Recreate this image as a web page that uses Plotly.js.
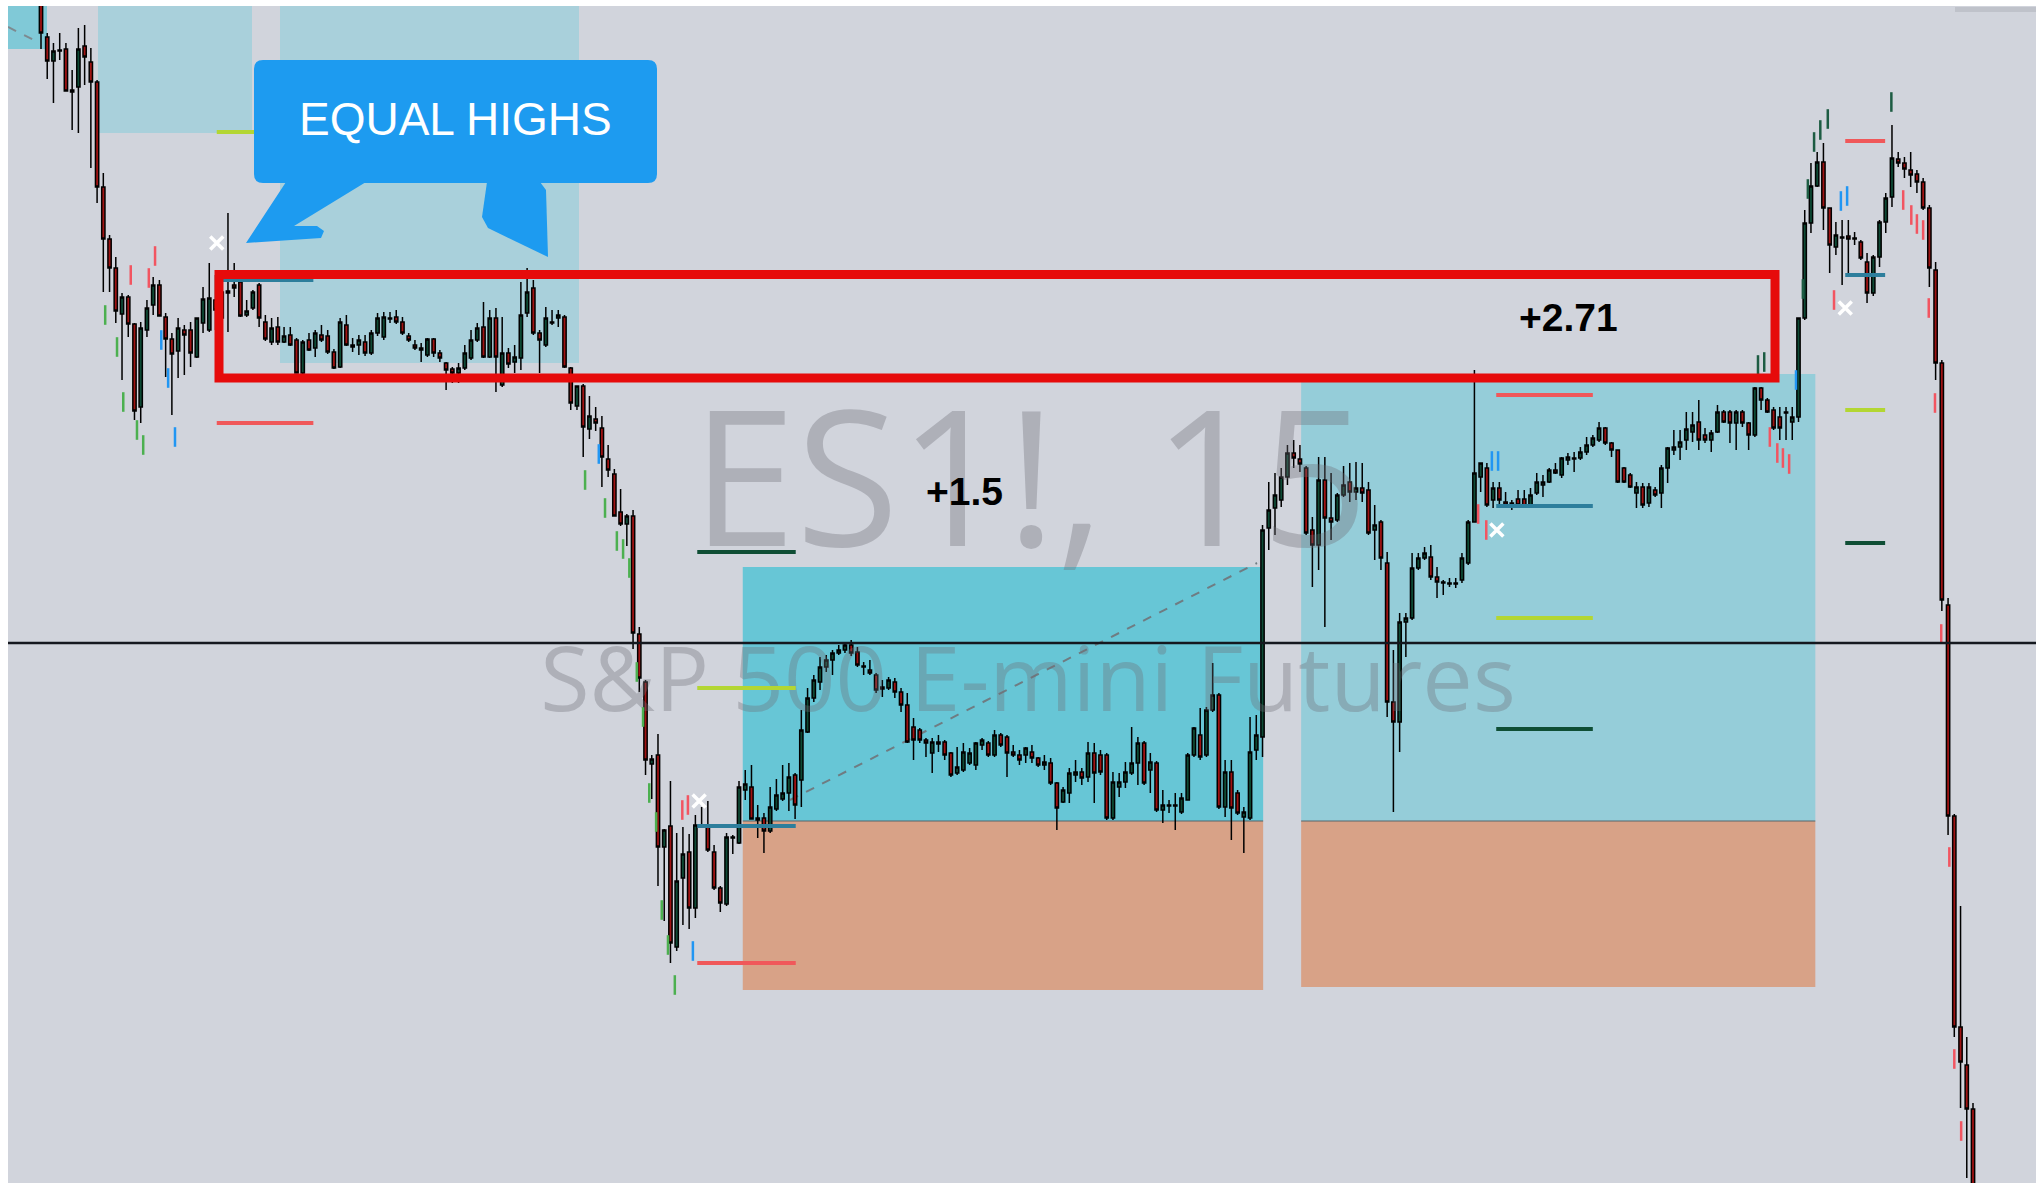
<!DOCTYPE html>
<html>
<head>
<meta charset="utf-8">
<script src="https://cdn.plot.ly/plotly-3.0.1.min.js"></script>
<style>
html,body{margin:0;padding:0;background:#fff;overflow:hidden;}
#chart{width:2036px;height:1183px;}
</style>
</head>
<body>
<div id="chart"></div>
<script>
// ---- ES1! 15-minute candles (prices) ----
const open = [
4999.8,4996.3,4993.9,4995.0,4995.1,4991.0,4991.3,4995.4,4993.8,4991.8,
4981.3,4976.1,4973.2,4968.6,4970.3,4967.6,4959.3,4967.0,4969.5,4971.5,
4968.3,4966.1,4964.9,4967.0,4967.0,4964.3,4967.7,4967.0,4970.0,4968.2,
4970.7,4971.5,4971.8,4968.5,4969.2,4971.5,4967.8,4965.8,4967.3,4965.8,
4966.5,4966.0,4962.7,4966.0,4965.2,4966.5,4966.4,4964.8,4963.3,4967.5,
4965.5,4965.5,4965.8,4964.7,4966.7,4966.3,4968.2,4968.3,4967.8,4966.4,
4965.5,4965.2,4964.5,4966.1,4964.7,4963.7,4963.1,4962.7,4963.2,4964.2,
4966.0,4967.3,4964.3,4968.2,4961.5,4964.7,4963.8,4964.2,4968.7,4971.2,
4966.7,4965.5,4967.8,4968.2,4968.3,4963.2,4959.4,4961.4,4957.1,4958.1,
4957.2,4954.1,4952.6,4948.8,4947.6,4948.4,4936.6,4931.8,4923.6,4924.5,
4915.3,4917.4,4905.3,4912.2,4914.8,4909.2,4917.5,4917.3,4914.8,4911.2,
4909.6,4916.3,4915.7,4921.0,4921.3,4918.0,4918.2,4916.9,4919.1,4920.1,
4920.7,4922.5,4922.0,4926.8,4930.2,4931.8,4933.3,4934.0,4934.7,4935.0,
4935.5,4934.8,4933.4,4933.0,4932.5,4931.1,4931.2,4931.8,4930.8,4929.5,
4927.3,4927.0,4926.0,4924.7,4925.8,4925.8,4924.7,4922.7,4923.0,4923.7,
4923.5,4925.5,4925.7,4924.5,4926.5,4926.3,4924.8,4924.5,4924.5,4924.8,
4924.2,4923.5,4923.7,4921.7,4919.8,4920.7,4922.5,4922.8,4922.3,4924.7,
4924.5,4924.5,4918.2,4921.3,4921.8,4922.7,4923.7,4925.7,4923.0,4923.7,
4919.0,4919.5,4919.4,4918.8,4920.0,4924.5,4926.5,4924.5,4929.0,4930.5,
4919.3,4922.8,4920.7,4918.3,4918.2,4925.0,4926.3,4947.2,4949.2,4950.0,
4952.3,4954.7,4954.1,4953.2,4947.0,4945.5,4952.0,4948.2,4948.0,4950.5,
4951.8,4950.8,4951.2,4951.0,4947.0,4947.8,4943.7,4929.8,4927.8,4937.8,
4938.2,4943.2,4944.2,4944.3,4942.3,4941.8,4941.7,4941.7,4942.0,4943.7,
4947.8,4952.3,4953.2,4950.0,4951.2,4949.8,4949.7,4950.1,4950.1,4949.5,
4950.7,4951.5,4951.8,4953.0,4952.5,4954.0,4954.2,4954.2,4954.8,4955.5,
4956.0,4957.2,4955.7,4955.0,4953.2,4952.5,4950.7,4951.3,4949.7,4951.0,
4950.7,4953.2,4955.0,4955.3,4956.0,4956.8,4957.8,4956.5,4956.0,4956.8,
4958.8,4958.8,4957.7,4958.8,4957.7,4956.5,4961.2,4960.0,4959.0,4958.3,
4958.8,4957.8,4958.3,4968.2,4977.7,4981.4,4983.8,4979.2,4975.3,4976.3,
4976.4,4976.2,4975.8,4973.8,4970.7,4974.3,4977.8,4980.3,4984.1,4983.7,
4983.0,4982.6,4981.8,4979.2,4973.0,4963.7,4939.5,4918.4,4897.3,4893.5,
4889.1];
const high = [
5000.8,4996.7,4995.7,4996.7,4995.7,4993.0,4997.2,4997.5,4995.2,4992.0,
4982.7,4976.5,4974.3,4970.7,4970.5,4967.7,4967.8,4970.0,4972.3,4972.0,
4968.7,4966.7,4968.2,4967.5,4967.8,4968.2,4971.3,4973.7,4972.5,4972.2,
4978.7,4973.7,4972.0,4970.0,4971.0,4971.7,4968.5,4968.2,4968.3,4967.3,
4967.3,4966.2,4966.0,4966.7,4967.0,4967.5,4967.0,4965.1,4968.2,4968.5,
4966.2,4966.5,4966.5,4967.0,4968.7,4968.8,4968.8,4969.0,4968.3,4966.7,
4966.0,4965.7,4966.2,4966.2,4965.0,4963.8,4963.3,4963.7,4965.5,4967.0,
4967.7,4969.8,4969.0,4969.2,4968.3,4965.2,4965.5,4971.8,4973.2,4972.0,
4967.0,4969.3,4969.0,4969.0,4968.5,4963.3,4961.4,4961.6,4960.4,4959.3,
4958.4,4955.5,4953.1,4951.1,4948.6,4949.0,4937.3,4932.0,4924.5,4926.6,
4917.1,4921.9,4916.7,4917.3,4916.6,4918.5,4919.3,4919.9,4915.5,4911.4,
4916.7,4916.5,4921.9,4923.0,4923.5,4919.5,4918.7,4921.3,4922.1,4923.5,
4923.7,4922.7,4929.0,4931.2,4932.5,4934.3,4934.5,4935.0,4935.5,4935.8,
4936.0,4935.3,4933.8,4934.0,4932.7,4932.0,4932.3,4932.2,4931.2,4930.7,
4928.2,4927.2,4926.2,4926.2,4926.5,4926.0,4924.8,4925.3,4925.7,4925.2,
4925.8,4926.2,4925.9,4927.0,4926.7,4926.5,4925.5,4925.0,4925.3,4925.5,
4924.3,4924.5,4924.2,4921.8,4921.3,4923.2,4924.0,4923.2,4925.8,4925.7,
4925.0,4924.7,4922.8,4922.7,4923.8,4927.3,4926.3,4925.9,4924.7,4923.9,
4921.0,4920.0,4920.7,4920.7,4924.7,4927.3,4929.2,4929.3,4933.7,4930.7,
4924.0,4924.0,4921.0,4919.3,4928.3,4928.5,4947.5,4951.8,4952.7,4953.2,
4955.5,4956.0,4955.5,4953.4,4948.3,4954.3,4954.3,4952.7,4950.7,4953.4,
4953.7,4953.8,4953.7,4951.8,4949.5,4948.0,4944.8,4935.0,4938.7,4938.7,
4944.7,4944.7,4945.3,4945.5,4943.3,4942.0,4942.2,4942.2,4944.7,4948.0,
4963.0,4953.7,4953.7,4951.8,4951.8,4950.8,4950.0,4951.0,4951.0,4951.2,
4952.7,4952.5,4953.2,4953.7,4954.3,4954.7,4954.8,4955.3,4956.3,4956.5,
4957.8,4957.3,4955.8,4955.0,4953.3,4952.7,4951.8,4951.7,4951.7,4951.3,
4953.5,4955.3,4957.0,4957.0,4958.8,4958.8,4960.0,4957.2,4957.0,4959.5,
4959.0,4959.0,4959.0,4959.0,4957.8,4961.3,4961.3,4960.2,4959.3,4959.3,
4959.3,4959.3,4968.2,4979.0,4983.7,4984.8,4985.7,4979.2,4977.8,4978.0,
4978.0,4976.8,4976.0,4974.7,4974.5,4978.0,4980.7,4987.5,4984.8,4984.3,
4984.8,4983.0,4982.2,4979.5,4973.8,4964.0,4940.2,4918.6,4909.4,4896.3,
4889.7];
const low = [
4995.1,4992.1,4989.7,4994.0,4990.9,4987.0,4986.7,4991.5,4983.2,4979.7,
4970.8,4970.8,4967.7,4962.0,4966.3,4958.0,4957.7,4966.3,4968.5,4968.4,
4962.3,4958.5,4962.2,4962.5,4963.3,4964.2,4966.7,4966.8,4967.0,4965.0,
4966.8,4970.3,4968.3,4968.3,4969.0,4967.3,4965.9,4965.5,4965.5,4965.7,
4965.4,4962.7,4962.6,4964.9,4964.3,4965.8,4964.6,4963.1,4963.2,4965.4,
4964.8,4964.5,4964.4,4964.5,4966.4,4966.0,4967.7,4967.6,4966.5,4965.8,
4965.0,4963.8,4964.3,4964.3,4963.8,4961.0,4961.7,4961.7,4963.0,4964.0,
4965.8,4964.2,4964.2,4960.8,4961.3,4963.2,4962.7,4963.0,4968.3,4966.5,
4962.7,4965.3,4967.5,4967.3,4963.2,4959.0,4959.0,4954.3,4956.1,4956.9,
4951.3,4952.3,4948.4,4947.4,4945.4,4935.1,4930.8,4922.5,4920.1,4911.4,
4907.9,4903.7,4904.9,4907.5,4907.1,4908.2,4917.3,4914.8,4911.0,4908.8,
4909.4,4914.6,4915.6,4920.0,4918.1,4916.2,4914.7,4916.7,4918.9,4919.9,
4918.9,4918.1,4919.3,4926.7,4929.8,4931.0,4932.8,4932.5,4934.5,4934.7,
4934.4,4933.3,4932.5,4932.5,4930.7,4930.3,4931.0,4930.2,4928.8,4925.7,
4924.0,4925.7,4924.3,4922.7,4924.8,4924.0,4922.3,4922.5,4922.8,4923.5,
4923.0,4925.0,4924.3,4924.3,4925.3,4922.3,4924.3,4923.5,4923.7,4923.7,
4923.3,4923.0,4921.5,4917.0,4919.7,4919.7,4921.8,4921.5,4921.8,4919.7,
4922.5,4918.0,4918.0,4920.3,4921.2,4922.5,4921.5,4921.5,4920.7,4918.8,
4917.7,4918.7,4917.0,4918.6,4920.0,4924.3,4924.0,4924.3,4928.8,4919.1,
4918.3,4916.0,4918.5,4914.7,4918.0,4924.0,4924.3,4945.0,4946.5,4949.3,
4951.5,4953.2,4952.8,4946.5,4941.3,4943.0,4937.3,4946.0,4947.8,4950.3,
4949.8,4950.0,4949.8,4946.5,4944.0,4943.0,4928.3,4918.8,4924.8,4934.3,
4938.0,4943.0,4944.0,4942.0,4940.2,4940.5,4941.3,4941.2,4941.7,4943.5,
4947.8,4950.8,4949.3,4949.2,4949.2,4949.3,4949.0,4949.3,4949.2,4949.2,
4950.5,4950.3,4951.7,4952.6,4952.2,4953.5,4952.8,4954.0,4954.5,4955.3,
4955.8,4955.5,4954.3,4951.7,4951.7,4951.2,4949.2,4949.2,4949.3,4950.3,
4949.2,4951.7,4954.5,4954.0,4955.0,4955.8,4955.0,4955.7,4954.8,4956.7,
4957.7,4955.7,4955.0,4957.3,4955.0,4956.3,4959.0,4958.7,4957.0,4956.0,
4956.0,4956.0,4957.8,4968.0,4976.7,4981.3,4977.0,4972.7,4974.5,4971.5,
4972.5,4975.5,4974.0,4969.7,4970.4,4973.3,4976.7,4979.3,4983.3,4982.2,
4981.3,4980.7,4979.0,4971.3,4962.0,4938.9,4916.5,4896.3,4889.2,4882.2,
4877.0];
const close = [
4996.7,4993.9,4994.9,4994.9,4990.9,4990.8,4995.1,4994.3,4991.8,4981.3,
4976.1,4973.2,4968.9,4970.3,4967.6,4958.9,4967.2,4969.2,4971.5,4968.4,
4966.1,4964.6,4967.2,4966.5,4964.7,4968.2,4970.1,4970.2,4969.0,4970.8,
4970.9,4971.2,4968.4,4968.9,4970.8,4968.2,4966.1,4967.2,4965.8,4966.4,
4965.5,4962.7,4965.8,4965.0,4966.7,4966.0,4964.8,4963.2,4967.8,4965.5,
4965.3,4966.0,4964.7,4966.7,4968.2,4968.3,4968.1,4967.8,4966.7,4966.0,
4965.2,4965.0,4966.1,4964.7,4964.2,4963.0,4962.7,4963.2,4964.7,4966.0,
4967.2,4964.3,4968.2,4964.3,4964.7,4963.6,4964.3,4968.5,4970.8,4966.7,
4966.0,4968.2,4967.7,4968.5,4963.3,4959.7,4961.4,4957.3,4958.4,4957.7,
4954.3,4953.0,4948.4,4947.6,4948.4,4936.7,4932.2,4924.0,4924.1,4915.3,
4917.0,4905.7,4911.9,4914.6,4909.2,4917.5,4917.4,4915.0,4911.2,4909.7,
4916.3,4916.2,4921.3,4921.6,4918.1,4918.2,4916.9,4919.3,4920.5,4920.7,
4922.3,4919.5,4927.0,4930.2,4932.0,4933.3,4934.0,4934.7,4935.0,4935.5,
4934.7,4933.5,4933.3,4932.7,4931.0,4931.3,4932.0,4930.8,4929.5,4925.8,
4926.0,4926.0,4925.7,4925.8,4925.6,4924.5,4922.5,4923.3,4924.8,4924.7,
4925.7,4926.0,4924.5,4926.5,4925.5,4924.7,4924.5,4924.0,4925.2,4924.2,
4923.5,4923.8,4921.7,4919.2,4921.0,4922.7,4922.8,4922.2,4924.7,4922.7,
4922.8,4918.2,4921.8,4921.8,4922.8,4923.7,4925.7,4921.7,4923.8,4919.0,
4919.5,4919.4,4919.5,4920.2,4924.5,4927.2,4924.3,4929.0,4930.5,4919.3,
4922.8,4919.2,4918.7,4918.8,4924.8,4926.5,4947.0,4949.0,4950.5,4952.3,
4954.7,4954.2,4953.6,4946.7,4945.5,4952.0,4948.2,4947.8,4950.5,4951.5,
4950.8,4951.2,4950.7,4946.7,4947.5,4944.2,4929.8,4927.8,4937.8,4938.2,
4943.2,4944.2,4944.7,4942.3,4941.8,4941.7,4941.6,4941.6,4944.2,4947.8,
4952.7,4953.7,4949.5,4951.2,4950.0,4949.5,4949.6,4949.5,4949.4,4950.5,
4951.8,4951.8,4953.0,4952.7,4954.2,4954.3,4954.1,4954.8,4955.5,4956.2,
4957.2,4955.7,4955.0,4951.8,4951.8,4951.3,4951.3,4949.5,4951.3,4950.5,
4953.2,4955.2,4955.3,4955.8,4957.1,4957.5,4956.0,4956.0,4956.7,4958.8,
4957.8,4957.7,4958.8,4957.7,4956.5,4961.2,4960.0,4958.8,4957.2,4957.2,
4958.7,4958.3,4968.2,4977.7,4981.4,4983.8,4979.2,4975.5,4976.5,4976.2,
4976.1,4976.1,4974.2,4970.7,4974.3,4977.8,4980.2,4984.2,4983.7,4983.1,
4982.5,4981.8,4979.2,4973.2,4963.7,4940.0,4918.4,4897.3,4893.8,4889.1,
4880.0];

// ---- signal dashes (bar index, price) ----
const sigGreenBar   = [10.3,12.2,13.2,15.4,16.4,87.3,90.5,92.4,93.4,94.4,95.6,96.6,97.6,98.7,99.6,100.6,101.7];
const sigGreenPrice = [4968.5,4965.3,4959.8,4957.0,4955.5,4952.0,4949.2,4945.9,4945.1,4943.2,4932.8,4928.3,4920.7,4917.8,4909.0,4905.5,4901.5];
const sigRedBar     = [14.4,17.3,18.3,102.9,103.8,230.6,231.9,277.4,278.6,279.5,280.5,287.7,298.8,300.1,301.0,302.0,302.9,303.9,304.9,306.2,307.0,308.1];
const sigRedPrice   = [4972.5,4972.2,4974.4,4919.0,4919.5,4948.6,4947.0,4956.3,4954.7,4954.2,4953.6,4970.0,4980.0,4978.5,4977.6,4977.0,4969.2,4959.7,4936.6,4914.3,4894.1,4886.9];
const sigBlueBar    = [19.3,20.4,21.5,89.5,104.6,232.8,233.8,281.6,288.8,289.8];
const sigBluePrice  = [4966.0,4962.2,4956.3,4954.6,4904.9,4953.9,4953.9,4962.0,4979.9,4980.4];
const sigDkBar      = [275.5,276.5,282.7,283.5,284.5,285.5,286.7,296.9];
const sigDkPrice    = [4963.5,4963.8,4971.1,4981.1,4985.8,4987.0,4988.1,4989.8];
const crossBar      = [28.2,105.6,233.6,289.5];
const crossPrice    = [4975.7,4919.9,4947.0,4969.2];

// ---- long-position boxes: start bar, end bar, target, entry, stop ----
const tradeStart  = [112.6,202.2];
const tradeEnd    = [196.1,284.7];
const tradeTarget = [4943.3,4962.6];
const tradeEntry  = [4917.9,4917.9];
const tradeStop   = [4901.0,4901.3];
const tradeLabel  = ['+1.5','+2.71'];
const tradeColor  = ['#67c6d6','#95cdd9'];

// ---- level-line groups: from bar, to bar, prices (red, blue, lime, dark green) ----
const lvlFrom  = [28.2,105.3,233.5,289.5];
const lvlTo    = [43.7,121.1,249.0,295.9];
const lvlRed   = [4957.7,4903.7,4960.5,4985.9];
const lvlBlue  = [4972.0,4917.4,4949.4,4972.5];
const lvlLime  = [4986.8,4931.2,4938.2,4959.0];
const lvlDark  = [null,4944.8,4927.1,4945.7];

const N = open.length;
const bars = open.map((_, i) => i);
const STEP = 1932 / (N - 1);            // pixel spacing between bars
const X = px => (px - 41) / STEP;        // page pixel -> bar axis
const Y = py => 5000 - py / 10;          // page pixel -> price axis

const shapes = [];
function rect(x0,x1,y0,y1,color,layer){shapes.push({type:'rect',xref:'x',yref:'y',x0,x1,y0,y1,fillcolor:color,line:{width:0},layer:layer||'below'});}
function hline(x0,x1,y,color,w,dash,layer){shapes.push({type:'line',xref:'x',yref:'y',x0,x1,y0:y,y1:y,line:{color,width:w,dash:dash||'solid'},layer:layer||'above'});}

// older zones at the top
rect(X(8),X(47),Y(0),Y(49),'#80c9d7');
shapes.push({type:'line',xref:'x',yref:'y',x0:X(8),y0:Y(27),x1:X(38),y1:Y(42),line:{color:'#7d8a90',width:2,dash:'dash'},layer:'below'});
rect(X(98),X(252),Y(0),Y(133),'#a9d0db');
rect(X(280),X(579),Y(0),Y(363),'#a9d0db');
rect(X(1955),X(2036),Y(7),Y(12),'#bfc2ca');

// trade boxes
for (let k = 0; k < tradeStart.length; k++) {
  rect(tradeStart[k], tradeEnd[k], tradeEntry[k], tradeTarget[k], tradeColor[k]);
  rect(tradeStart[k], tradeEnd[k], tradeStop[k], tradeEntry[k], '#d8a287');
  hline(tradeStart[k], tradeEnd[k], tradeEntry[k], '#56646b', 1, 'solid', 'below');
}
shapes.push({type:'line',xref:'x',yref:'y',x0:X(790),y0:Y(800),x1:X(1257),y1:Y(563),line:{color:'#6f7c82',width:2,dash:'dash'},layer:'below'});

// level lines
for (let k = 0; k < lvlFrom.length; k++) {
  hline(lvlFrom[k], lvlTo[k], lvlRed[k], '#f0585a', 4);
  hline(lvlFrom[k], lvlTo[k], lvlBlue[k], '#2d7e9c', 4);
  hline(lvlFrom[k], lvlTo[k], lvlLime[k], '#b3d633', 4);
  if (lvlDark[k] !== null) hline(lvlFrom[k], lvlTo[k], lvlDark[k], '#0f4e35', 4);
}

// last-price line
shapes.push({type:'line',xref:'paper',yref:'y',x0:0,x1:1,y0:Y(643),y1:Y(643),line:{color:'#15181f',width:2.5},layer:'above'});

// red outline around the equal highs range
shapes.push({type:'rect',xref:'x',yref:'y',x0:X(219),x1:X(1775),y0:Y(274.5),y1:Y(378),line:{color:'#e60b0b',width:9},fillcolor:'rgba(0,0,0,0)',layer:'above'});

// callout bubble + arrows (page pixels)
function P(px,py){return X(px)+','+Y(py);}
function poly(pts){return 'M'+pts.map(p=>P(p[0],p[1])).join(' L')+' Z';}
const CB = '#1d9bf0';
const bx0=254,bx1=657,by0=60,by1=183,r=9;
shapes.push({type:'path',xref:'x',yref:'y',layer:'above',fillcolor:CB,line:{width:0},
  path:'M'+P(bx0+r,by0)+' L'+P(bx1-r,by0)+' Q'+P(bx1,by0)+' '+P(bx1,by0+r)+' L'+P(bx1,by1-r)+' Q'+P(bx1,by1)+' '+P(bx1-r,by1)+
       ' L'+P(bx0+r,by1)+' Q'+P(bx0,by1)+' '+P(bx0,by1-r)+' L'+P(bx0,by0+r)+' Q'+P(bx0,by0)+' '+P(bx0+r,by0)+' Z'});
shapes.push({type:'path',xref:'x',yref:'y',layer:'above',fillcolor:CB,line:{width:0},
  path:poly([[286,182],[246,243],[321,238],[324,231],[317,226],[294,226],[366,182]])});
shapes.push({type:'path',xref:'x',yref:'y',layer:'above',fillcolor:CB,line:{width:0},
  path:poly([[487,182],[482,217],[488,228],[548,257],[546,190],[540,182]])});

const annotations = [
  {xref:'x',yref:'y',x:X(455),y:Y(119),text:'EQUAL HIGHS',showarrow:false,font:{family:'Liberation Sans, Arial, sans-serif',size:46,color:'#ffffff'}},
  {xref:'x',yref:'y',x:X(964),y:Y(491),text:'<b>'+tradeLabel[0]+'</b>',showarrow:false,font:{family:'Liberation Sans, Arial, sans-serif',size:39,color:'#000'}},
  {xref:'x',yref:'y',x:X(1568),y:Y(317),text:'<b>'+tradeLabel[1]+'</b>',showarrow:false,font:{family:'Liberation Sans, Arial, sans-serif',size:39,color:'#000'}}
];

const wm = 'rgba(108,110,118,0.35)';
const data = [
  {type:'scatter',mode:'text',x:[X(1030)],y:[Y(499)],text:['ES1!, 15'],textposition:'middle center',
   textfont:{family:'Open Sans, sans-serif',size:188,color:wm},hoverinfo:'skip',showlegend:false},
  {type:'scatter',mode:'text',x:[X(1028)],y:[Y(688)],text:['S&P 500 E-mini Futures'],textposition:'middle center',
   textfont:{family:'Open Sans, sans-serif',size:90,color:wm},hoverinfo:'skip',showlegend:false},
  {type:'candlestick',x:bars,open:open,high:high,low:low,close:close,whiskerwidth:0,
   increasing:{line:{color:'#000000',width:1.5},fillcolor:'#0e4a35'},
   decreasing:{line:{color:'#000000',width:1.5},fillcolor:'#a01313'},
   hoverinfo:'skip',showlegend:false},
  {type:'scatter',mode:'markers',x:sigGreenBar,y:sigGreenPrice,marker:{symbol:'line-ns',size:14,line:{width:2.5,color:'#4cb050'}},hoverinfo:'skip',showlegend:false},
  {type:'scatter',mode:'markers',x:sigRedBar,y:sigRedPrice,marker:{symbol:'line-ns',size:14,line:{width:2.5,color:'#f25561'}},hoverinfo:'skip',showlegend:false},
  {type:'scatter',mode:'markers',x:sigBlueBar,y:sigBluePrice,marker:{symbol:'line-ns',size:14,line:{width:2.5,color:'#2196f3'}},hoverinfo:'skip',showlegend:false},
  {type:'scatter',mode:'markers',x:sigDkBar,y:sigDkPrice,marker:{symbol:'line-ns',size:14,line:{width:2.5,color:'#1d5c43'}},hoverinfo:'skip',showlegend:false},
  {type:'scatter',mode:'markers',x:crossBar,y:crossPrice,marker:{symbol:'x-thin',size:13,line:{width:3.5,color:'#ffffff'}},hoverinfo:'skip',showlegend:false}
];

const layout = {
  width:2036,height:1183,
  margin:{l:8,r:0,t:6,b:0,pad:0},
  paper_bgcolor:'#ffffff',plot_bgcolor:'#d1d4dc',
  showlegend:false,hovermode:false,boxgap:0.25,
  xaxis:{range:[X(8),X(2036)],visible:false,showgrid:false,zeroline:false,rangeslider:{visible:false},fixedrange:true},
  yaxis:{range:[Y(1183),Y(6)],visible:false,showgrid:false,zeroline:false,fixedrange:true},
  shapes:shapes,annotations:annotations
};
Plotly.newPlot('chart',data,layout,{staticPlot:true,displayModeBar:false});
</script>
</body>
</html>
